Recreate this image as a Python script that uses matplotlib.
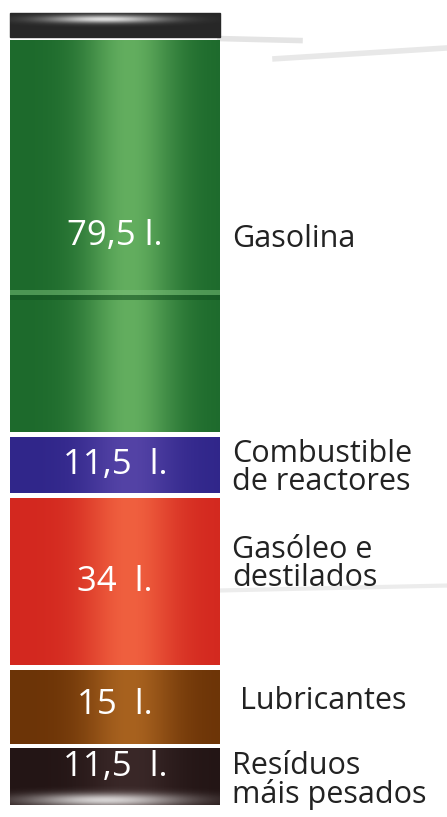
import matplotlib.pyplot as plt
import numpy as np
from matplotlib.colors import to_rgb
from matplotlib.patches import Rectangle

# barrel contents, top to bottom
products = ["Gasolina", "Combustible\nde reactores", "Gasóleo e\ndestilados",
            "Lubricantes", "Resíduos\nmáis pesados"]
litres = [79.5, 11.5, 34, 15, 11.5]
value_labels = ["79,5 l.", "11,5  l.", "34  l.", "15  l.", "11,5  l."]

# (edge colour, highlight colour) for the cylinder shading
shades = [("#1d6a2c", "#63ae5f"),
          ("#30268a", "#5443a6"),
          ("#d3281f", "#f0603f"),
          ("#6c3407", "#a8621f"),
          ("#231515", "#3a2828")]

label_dy = [-0.5, -0.6, 3.5, 1.2, -0.8]     # nudges for the right-hand texts (litres)
value_dy = [0, 0, 0, 0.4, 2.0]

gap = 0.9
bar_x, bar_w = 115, 210

plt.rcParams['font.family'] = ['Open Sans', 'DejaVu Sans']

fig = plt.figure(figsize=(4.47, 8.17), dpi=100)
ax = fig.add_axes([0, 0, 1, 1])
ax.set_xlim(0, 447)
ax.set_ylim(-2.43, 163.22)
ax.axis("off")

# faint background streaks behind the barrel
ax.plot([220, 300], [155.4, 155.0], color="#e4e4e4", lw=4, zorder=0)
ax.plot([275, 447], [151.3, 153.5], color="#e8e8e8", lw=4, zorder=0)
ax.plot([220, 447], [43.5, 44.5], color="#ececec", lw=3, zorder=0)


def shade_img(edge, high, pos=0.57, n=256):
    e, h = np.array(to_rgb(edge)), np.array(to_rgb(high))
    t = np.linspace(0, 1, n)
    w = np.exp(-((t - pos) / 0.22) ** 2)
    return (e[None, :] * (1 - w[:, None]) + h[None, :] * w[:, None])[None, :, :]


bottoms = []
acc = 0.0
for i, v in enumerate(litres[::-1]):
    bottoms.append(acc)
    acc += v + gap
bottoms = bottoms[::-1]

bars = ax.bar([bar_x] * len(litres), litres, bottom=bottoms, width=bar_w,
              color=[s[0] for s in shades], zorder=2)

for rect, (edge, high) in zip(bars, shades):
    x0, y0 = rect.get_x(), rect.get_y()
    img = ax.imshow(shade_img(edge, high), aspect="auto", zorder=3,
                    extent=(x0, x0 + rect.get_width(), y0, y0 + rect.get_height()))
    img.set_clip_path(rect)

# barrel rib in the gasoline section
g = bars[0]
rib = g.get_y() + 0.35 * g.get_height()
ax.fill_between([g.get_x(), g.get_x() + g.get_width()], rib, rib + 0.9,
                color="#7cc07a", alpha=0.5, zorder=4, lw=0)
ax.fill_between([g.get_x(), g.get_x() + g.get_width()], rib - 1.0, rib,
                color="#134f20", alpha=0.55, zorder=4, lw=0)

# lid of the barrel
top = g.get_y() + g.get_height()
lid = Rectangle((g.get_x(), top + 0.6), bar_w, 4.9, color="#272727", zorder=2)
ax.add_patch(lid)
yy, xx = np.mgrid[0:1:60j, 0:1:200j]
glow = np.exp(-(((xx - 0.45) / 0.28) ** 2 + ((yy - 0.72) / 0.16) ** 2))
rgba = np.ones((60, 200, 4))
rgba[..., 3] = glow * 0.85
im = ax.imshow(rgba, aspect="auto", zorder=3, origin="lower",
               extent=(g.get_x(), g.get_x() + bar_w, top + 0.6, top + 5.5))
im.set_clip_path(lid)

# highlight at the bottom of the barrel
b = bars[-1]
glow = np.exp(-(((xx - 0.45) / 0.38) ** 2 + ((yy - 0.08) / 0.12) ** 2))
rgba = np.ones((60, 200, 4))
rgba[..., 3] = glow * 0.8
im = ax.imshow(rgba, aspect="auto", zorder=4, origin="lower",
               extent=(b.get_x(), b.get_x() + bar_w, b.get_y(), b.get_y() + b.get_height()))
im.set_clip_path(b)

for rect, lab, name, dv, dl in zip(bars, value_labels, products, value_dy, label_dy):
    yc = rect.get_y() + rect.get_height() / 2
    ax.text(bar_x, yc + dv, lab, color="white", fontsize=25,
            ha="center", va="center", zorder=5)
    xl = 240 if name == "Lubricantes" else 232
    ax.text(xl, yc + dl, name, color="#222222", fontsize=22,
            ha="left", va="center", linespacing=0.92, zorder=5)

fig.savefig("out.png", dpi=100)
